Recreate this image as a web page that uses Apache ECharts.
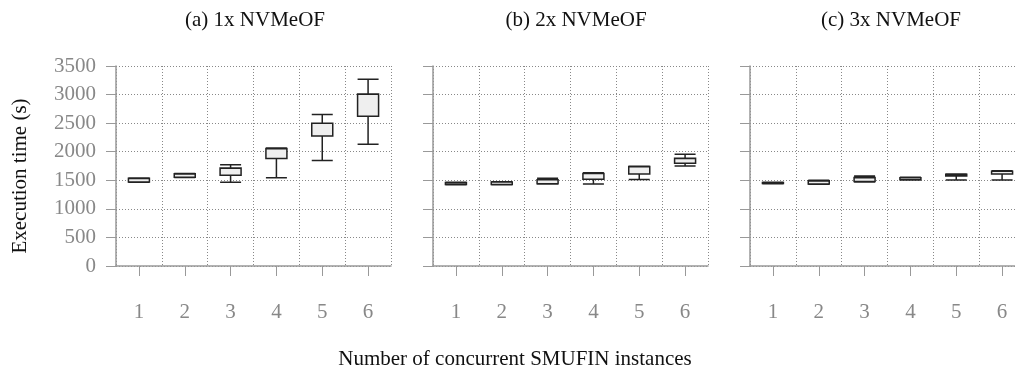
<!DOCTYPE html>
<html><head><meta charset="utf-8">
<script src="https://cdn.jsdelivr.net/npm/echarts@6/dist/echarts.min.js"></script>
<style>html,body{margin:0;padding:0;background:#fff;overflow:hidden}#c{width:1030px;height:376px}</style>
</head><body><div id="c"></div>
<script>
const categories = ['1','2','3','4','5','6'];
const yTicks = [0,500,1000,1500,2000,2500,3000,3500];
const panelTitles = ['(a) 1x NVMeOF','(b) 2x NVMeOF','(c) 3x NVMeOF'];
// [min, Q1, median, Q3, max]
const boxes1x = [
  [1465,1472,1530,1535,1540],
  [1550,1555,1610,1615,1620],
  [1465,1590,1712,1715,1770],
  [1545,1880,2052,2055,2065],
  [1845,2275,2497,2500,2650],
  [2130,2620,3007,3010,3270]
];
const boxes2x = [
  [1420,1425,1458,1460,1465],
  [1420,1425,1468,1470,1475],
  [1435,1440,1508,1510,1535],
  [1435,1520,1618,1620,1630],
  [1515,1610,1736,1740,1745],
  [1750,1800,1882,1885,1955]
];
const boxes3x = [
  [1440,1445,1458,1460,1465],
  [1430,1435,1488,1490,1500],
  [1470,1480,1545,1550,1575],
  [1505,1510,1543,1545,1555],
  [1505,1575,1603,1605,1612],
  [1505,1610,1658,1660,1665]
];
const panels = [boxes1x, boxes2x, boxes3x];
const lefts = [116, 433, 750];
const titleX = [250, 571, 886];
const W = 275;
const font = 'Liberation Serif';
const chart = echarts.init(document.getElementById('c'));
const grids = [], xAxes = [], yAxes = [], series = [], titles = [];
panels.forEach((d, i) => {
  grids.push({left: lefts[i], top: 66, height: 200, width: W});
  xAxes.push({
    type: 'category', gridIndex: i, data: categories, boundaryGap: true,
    axisLine: {lineStyle: {color: '#999', width: 1.5}},
    axisTick: {show: true, alignWithLabel: true, length: 10, lineStyle: {color: '#999'}},
    axisLabel: {color: '#888', fontFamily: font, fontSize: 21, margin: 36},
    splitLine: {show: true, lineStyle: {color: '#888', type: [1, 2], width: 1}}
  });
  yAxes.push({
    type: 'value', gridIndex: i, min: 0, max: 3500, interval: 500,
    axisLine: {show: true, lineStyle: {color: '#999', width: 1.5}},
    axisTick: {show: true, length: 10, lineStyle: {color: '#999'}},
    axisLabel: {show: i === 0, color: '#888', fontFamily: font, fontSize: 21, margin: 20,
      formatter: v => String(v)},
    splitLine: {show: true, lineStyle: {color: '#888', type: [1, 2], width: 1}}
  });
  series.push({
    type: 'boxplot', xAxisIndex: i, yAxisIndex: i, data: d,
    boxWidth: [21, 21],
    itemStyle: {color: '#efefef', borderColor: '#222', borderWidth: 1.5},
    emphasis: {disabled: true}, silent: true, animation: false
  });
  titles.push({text: panelTitles[i], left: titleX[i], top: 5, textAlign: 'center',
    textStyle: {color: '#111', fontFamily: font, fontSize: 21, fontWeight: 'normal'}});
});
titles.push({text: 'Number of concurrent SMUFIN instances', left: 510, top: 344, textAlign: 'center',
  textStyle: {color: '#111', fontFamily: font, fontSize: 21, fontWeight: 'normal'}});
chart.setOption({
  animation: false,
  title: titles,
  graphic: [{type: 'text', x: 20, y: 176, rotation: Math.PI / 2,
    style: {text: 'Execution time (s)', fill: '#111', font: '21px "Liberation Serif"',
      textAlign: 'center', textVerticalAlign: 'middle'}}],
  grid: grids, xAxis: xAxes, yAxis: yAxes, series: series
});
</script></body></html>
